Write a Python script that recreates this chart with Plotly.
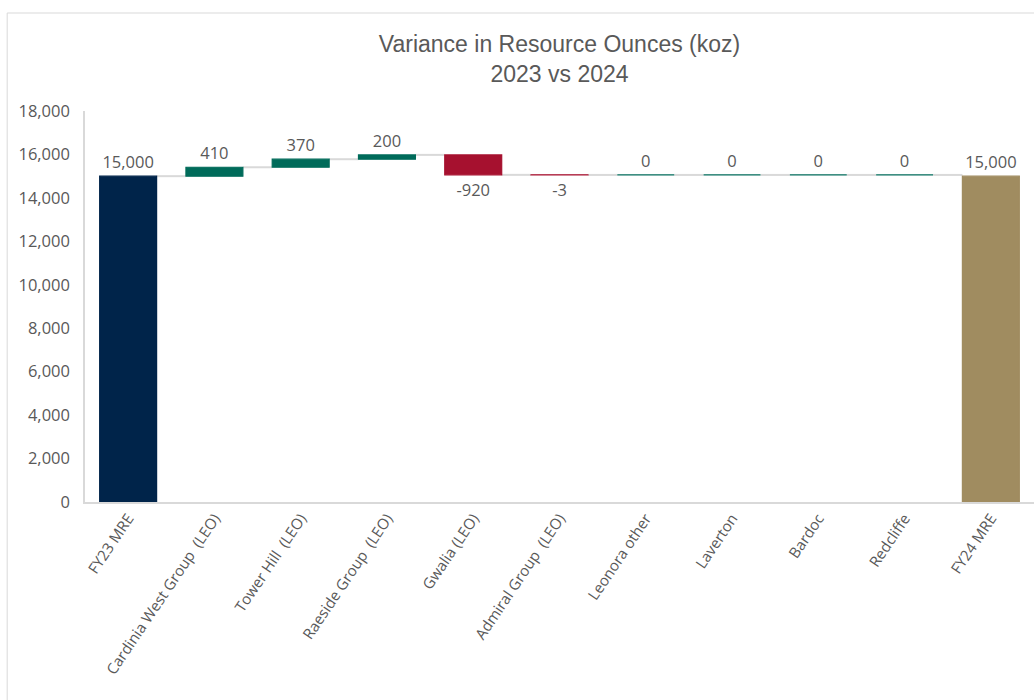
import plotly.graph_objects as go

# Resource ounces (koz): opening balance, changes by project, closing balance
categories = [
    "FY23 MRE", "Cardinia West Group  (LEO)", "Tower Hill  (LEO)",
    "Raeside Group  (LEO)", "Gwalia (LEO)", "Admiral Group  (LEO)",
    "Leonora other", "Laverton", "Bardoc", "Redcliffe", "FY24 MRE",
]
values = [15000, 410, 370, 200, -920, -3, 0, 0, 0, 0, 15000]
kinds = ["total", "delta", "delta", "delta", "delta", "delta",
         "delta", "delta", "delta", "delta", "total"]

NAVY, TEAL, RED, GOLD = "#00244A", "#006B5A", "#A6112F", "#A08C60"
GREY_TXT = "#595959"

# bar bases and heights from the running total
bases, heights, colors, levels = [], [], [], []
running = 0
for i, (v, k) in enumerate(zip(values, kinds)):
    if k == "total":
        bases.append(0)
        heights.append(v)
        colors.append(NAVY if i == 0 else GOLD)
        running = v
    else:
        bases.append(running)
        heights.append(v)
        colors.append(RED if v < 0 else TEAL)
        running += v
    levels.append(running)

labels = [f"{v:,}" for v in values]

fig = go.Figure(go.Bar(
    x=categories, y=heights, base=bases,
    marker=dict(color=colors, line=dict(color=colors, width=1.2)),
    width=0.66,
    text=labels, textposition="outside", cliponaxis=False,
    textfont=dict(family="Open Sans", size=16.5, color=GREY_TXT),
    hoverinfo="skip",
))

# connector lines between neighbouring bars
half = 0.33
for i in range(len(values) - 1):
    fig.add_shape(type="line", xref="x", yref="y",
                  x0=i + half, x1=i + 1 - half, y0=levels[i], y1=levels[i],
                  line=dict(color="#D9D9D9", width=2), layer="below")

# outer chart border
fig.add_shape(type="rect", xref="paper", yref="paper",
              x0=-0.082, x1=1.05, y0=-0.55, y1=1.2506,
              line=dict(color="#D9D9D9", width=1), layer="below")

fig.update_layout(
    width=1034, height=700,
    margin=dict(l=85, r=0, t=111, b=198),
    plot_bgcolor="white", paper_bgcolor="white",
    showlegend=False,
    title=dict(
        text="Variance in Resource Ounces (koz)<br>2023 vs 2024",
        x=0.5, xanchor="center", xref="paper", y=0.926, yanchor="middle",
        font=dict(family="Liberation Sans Narrow, Arial Narrow, Liberation Sans",
                  size=23, color=GREY_TXT),
    ),
    xaxis=dict(
        type="category", tickangle=-56,
        tickfont=dict(family="Open Sans", size=15, color=GREY_TXT),
        showline=True, linecolor="#D9D9D9", linewidth=1.5,
        showgrid=False, ticks="",
    ),
    yaxis=dict(
        range=[0, 18000], dtick=2000, tickformat=",d",
        tickfont=dict(family="Open Sans", size=16.5, color=GREY_TXT),
        showline=True, linecolor="#D9D9D9", linewidth=1.5,
        showgrid=False, zeroline=False, ticks="", ticklabelstandoff=10,
    ),
)

fig.write_html("out.html")
